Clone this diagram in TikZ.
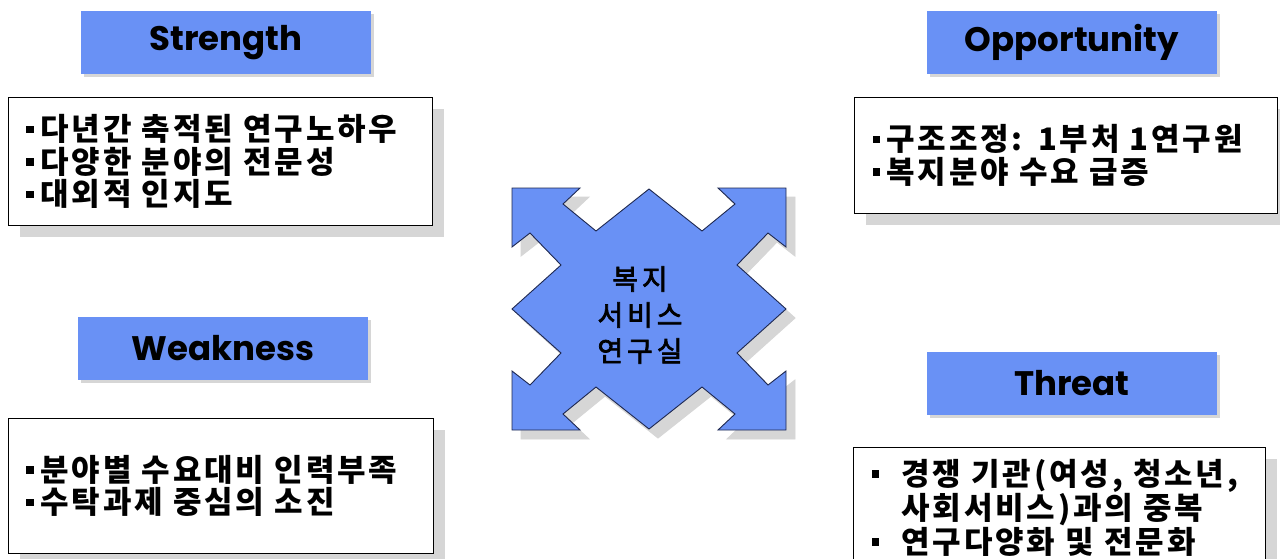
\documentclass[tikz,border=0pt]{standalone}
\usepackage{fontspec}
\setmainfont{Noto Sans CJK KR}
\newfontfamily\hdrfam{Poppins}
\newfontfamily\korfam[LetterSpace=9]{Noto Sans CJK KR}
\newfontfamily\midfam[LetterSpace=14,FakeBold=2.5]{Noto Sans CJK KR}
\usetikzlibrary{shadows}
\definecolor{swotblue}{RGB}{105,145,245}
\definecolor{shadowgray}{RGB}{214,214,214}
\definecolor{arrowline}{RGB}{30,40,80}
% small square bullet
\newcommand{\sqb}{\raisebox{7.5pt}{\rule{7.5pt}{7.5pt}}}
\newcommand{\bl}{\makebox[14pt][l]{\sqb}}
\newcommand{\blw}{\makebox[30pt][l]{\sqb}}

\begin{document}
\begin{tikzpicture}[x=1pt, y=-1pt,
	hdr/.style={fill=swotblue, minimum width=290pt, minimum height=63pt, inner sep=0pt,
		font=\hdrfam\bfseries\fontsize{34}{36}\selectfont,
		drop shadow={shadow xshift=3pt, shadow yshift=-3pt, fill=shadowgray, opacity=1}},
	txtbox/.style={draw=black, line width=1pt, fill=white, anchor=north west, align=left,
		inner xsep=18pt, inner ysep=0pt, font=\korfam\bfseries\fontsize{31}{32.5}\selectfont,
		drop shadow={shadow xshift=11pt, shadow yshift=-11pt, fill=shadowgray, opacity=1}}]
	\useasboundingbox (0,0) rectangle (1280,558);
	\clip (0,0) rectangle (1280,558);
	\fill[white] (0,0) rectangle (1280,558);
	
	% headers
	\node[hdr] (hS) at (226,42.5) {Strength};
	\node[hdr] (hO) at (1072,42.5) {Opportunity};
	\node[hdr] (hW) at (223,348) {Weakness};
	\node[hdr] (hT) at (1072,383.5) {Threat};
	
	% boxes
	\node[txtbox, minimum width=424pt, minimum height=128pt, text width=388pt] (bS) at (8,97)
		{\bl 다년간 축적된 연구노하우\\\bl 다양한 분야의 전문성\\\bl 대외적 인지도};
	\node[txtbox, minimum width=423pt, minimum height=116pt, text width=387pt] (bO) at (854,97)
		{\bl 구조조정: 1부처 1연구원\\\bl 복지분야 수요 급증};
	\node[txtbox, minimum width=425pt, minimum height=135pt, text width=389pt] (bW) at (8,418)
		{\bl 분야별 수요대비 인력부족\\\bl 수탁과제 중심의 소진};
	\node[txtbox, minimum width=412pt, minimum height=120pt, text width=376pt] (bT) at (853,447)
		{\blw 경쟁 기관(여성, 청소년,\\\hspace*{30pt}사회서비스)과의 중복\\\blw 연구다양화 및 전문화};
	
	% centre arrow
	\foreach \dx/\col/\edge in {9/shadowgray/shadowgray, 0/swotblue/arrowline}{
		\begin{scope}[shift={(649+\dx,309+\dx)}]
			\filldraw[fill=\col, draw=\edge, line width=0.9pt, line join=miter]
				(-137,-121) -- (-69,-121) -- (-86,-105) -- (-53,-78) -- (0,-120)
				-- (53,-78) -- (86,-105) -- (69,-121) -- (137,-121) -- (137,-62)
				-- (119,-76) -- (88,-44) -- (137,0) -- (88,44) -- (119,76)
				-- (137,62) -- (137,121) -- (69,121) -- (86,105) -- (53,78)
				-- (0,120) -- (-53,78) -- (-86,105) -- (-69,121) -- (-137,121)
				-- (-137,62) -- (-119,76) -- (-88,44) -- (-137,0) -- (-88,-44)
				-- (-119,-76) -- (-137,-62) -- cycle;
		\end{scope}
	}
	\node[align=center, font=\midfam\fontsize{28}{36}\selectfont] (lab) at (640,315)
		{복지\\서비스\\연구실};
\end{tikzpicture}
\end{document}
